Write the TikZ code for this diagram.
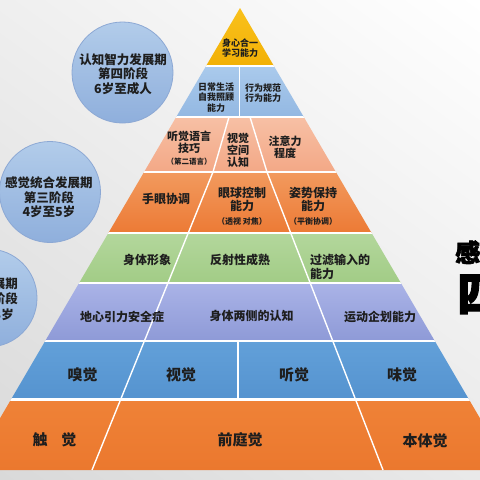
\documentclass[tikz,border=0pt]{standalone}
\usepackage{fontspec}
\setmainfont{Noto Sans CJK SC}
\newfontfamily\heavyfont{Noto Sans CJK SC}[BoldFeatures={FakeBold=2.5}]
\usetikzlibrary{shadings}
\newcommand\myfs[2]{\fontsize{#1pt}{#2pt}\selectfont\bfseries}
\definecolor{txt}{HTML}{1E1E1E}
\definecolor{bgA}{HTML}{EFEFEF}
\definecolor{bgB}{HTML}{FFFFFF}
\definecolor{bgC}{HTML}{D9D9D9}
\definecolor{bgD}{HTML}{E9E9E9}
\definecolor{cirT}{HTML}{B2CCEA}
\definecolor{cirB}{HTML}{8FAFDC}
\definecolor{cirE}{HTML}{8CA8D4}
\definecolor{yelT}{HTML}{F9C11C}
\definecolor{yelB}{HTML}{F2B005}
\definecolor{lbT}{HTML}{AACAEC}
\definecolor{lbB}{HTML}{93B8E2}
\definecolor{saT}{HTML}{F7C0A5}
\definecolor{saB}{HTML}{F3A886}
\definecolor{orT}{HTML}{F29A5E}
\definecolor{orB}{HTML}{EC7A35}
\definecolor{grT}{HTML}{B3D79C}
\definecolor{grB}{HTML}{A2CC86}
\definecolor{laT}{HTML}{AAB3E7}
\definecolor{laB}{HTML}{8E9AD7}
\definecolor{blT}{HTML}{62A0D9}
\definecolor{blB}{HTML}{5593CF}
\definecolor{boT}{HTML}{EF8237}
\definecolor{boB}{HTML}{EB782E}
\begin{document}
\begin{tikzpicture}[x=1pt,y=-1pt,
  cell/.style={text=txt, align=center, inner sep=0pt},
  gap/.style={white, line width=2.2pt},
  divline/.style={white, line width=1.4pt},
  circ/.style={draw=cirE, line width=0.8pt, top color=cirT, bottom color=cirB}]
\path[use as bounding box] (0,0) rectangle (480,480);
\clip (0,0) rectangle (480,480);
% background
\shade[upper left=bgA, upper right=bgB, lower left=bgC, lower right=bgD] (0,0) rectangle (480,480);
% circles
\path[circ] (122.5,72.5) circle (50.5pt);
\path[circ] (50,192) circle (50.5pt);
\path[circ] (-12,298) circle (49pt);
\node[cell, font=\myfs{12.5}{14.5}] (c1) at (123,74) {认知智力发展期\\第四阶段\\6岁至成人};
\node[cell, font=\myfs{12.5}{14.5}] (c2) at (49,197.5) {感觉统合发展期\\第三阶段\\4岁至5岁};
\node[cell, align=right, anchor=east, font=\myfs{12.5}{15.5}] (c3) at (18,299) {感觉动作发展期\\第二阶段\\1岁至3岁\hspace*{4pt}};
% pyramid rows
\shade[top color=yelT, bottom color=yelB] (240,8) -- (273.93,66) -- (206.07,66) -- cycle;
\shade[top color=lbT, bottom color=lbB] (206.07,66) -- (273.93,66) -- (303.8,117) -- (176.2,117) -- cycle;
\shade[top color=saT, bottom color=saB] (176.2,117) -- (303.8,117) -- (335.9,172) -- (144.1,172) -- cycle;
\shade[top color=orT, bottom color=orB] (144.1,172) -- (335.9,172) -- (371.6,233) -- (108.4,233) -- cycle;
\shade[top color=grT, bottom color=grB] (108.4,233) -- (371.6,233) -- (400.9,283) -- (79.1,283) -- cycle;
\shade[top color=laT, bottom color=laB] (79.1,283) -- (400.9,283) -- (434.8,341) -- (45.2,341) -- cycle;
\shade[top color=blT, bottom color=blB] (45.2,341) -- (434.8,341) -- (469,399.5) -- (11,399.5) -- cycle;
\shade[top color=boT, bottom color=boB] (11,399.5) -- (469,399.5) -- (510.3,470) -- (-30.3,470) -- cycle;
% white gaps and dividers
\begin{scope}
\clip (240,8) -- (510.3,470) -- (-30.3,470) -- cycle;
\foreach \yy in {66,117,172,233,283,341,399.5}{\draw[gap] (0,\yy) -- (480,\yy);}
\draw[divline] (239.5,66) -- (239.5,117);
\draw[divline] (229,117) -- (213,172);
\draw[divline] (250,117) -- (267,172);
\draw[divline] (213,172) -- (92,470);
\draw[divline] (267,172) -- (383,470);
\draw[divline] (238,341) -- (238,399.5);
\end{scope}
% texts
\node[cell, font=\myfs{9}{10.5}] (t1) at (240,48) {身心合一\\学习能力};
\node[cell, font=\myfs{9}{10.5}] (t2) at (216,97.5) {日常生活\\自我照顾\\能力};
\node[cell, font=\myfs{9}{10.5}] (t3) at (263,93) {行为规范\\行为能力};
\node[cell, font=\myfs{11}{12}] (t4) at (189,148) {听觉语言\\技巧\\{\myfs{7.5}{9}（第二语言）}};
\node[cell, font=\myfs{11}{12}] (t5) at (238,150) {视觉\\空间\\认知};
\node[cell, font=\myfs{11}{12}] (t6) at (285,147.5) {注意力\\程度};
\node[cell, font=\myfs{12}{13}] (t7) at (166,199) {手眼协调};
\node[cell, font=\myfs{12}{13.5}] (t8) at (242,206) {眼球控制\\能力\\{\myfs{8}{11}（透视 对焦）}};
\node[cell, font=\myfs{12}{13.5}] (t9) at (313,206) {姿势保持\\能力\\{\myfs{8}{11}（平衡协调）}};
\node[cell, font=\myfs{12}{13}] (t10) at (147,260) {身体形象};
\node[cell, font=\myfs{12}{13}] (t11) at (240,260) {反射性成熟};
\node[cell, align=left, anchor=west, font=\myfs{12}{14}] (t12) at (310,267) {过滤输入的\\能力};
\node[cell, font=\myfs{12}{13}] (t13) at (122,317) {地心引力安全症};
\node[cell, font=\myfs{12}{13}] (t14) at (251.5,316) {身体两侧的认知};
\node[cell, font=\myfs{12}{13}] (t15) at (380,317) {运动企划能力};
\node[cell, font=\myfs{15}{16}] (t16) at (82.5,375) {嗅觉};
\node[cell, font=\myfs{15}{16}] (t17) at (181,375) {视觉};
\node[cell, font=\myfs{15}{16}] (t18) at (294,375) {听觉};
\node[cell, font=\myfs{15}{16}] (t19) at (402,375) {味觉};
\node[cell, font=\myfs{15}{16}] (t20) at (54.5,440) {触\hspace{14pt}觉};
\node[cell, font=\myfs{15}{16}] (t21) at (240,440) {前庭觉};
\node[cell, font=\myfs{15}{16}] (t22) at (425,441) {本体觉};
% cut-off title at right
\node[inner sep=0pt, anchor=base west, text=black, font=\heavyfont\myfs{25}{26}] (r1) at (455,262) {感统};
\node[inner sep=0pt, anchor=base west, text=black, font=\heavyfont\myfs{47}{50}] (r2) at (457,311) {四};
\end{tikzpicture}
\end{document}
